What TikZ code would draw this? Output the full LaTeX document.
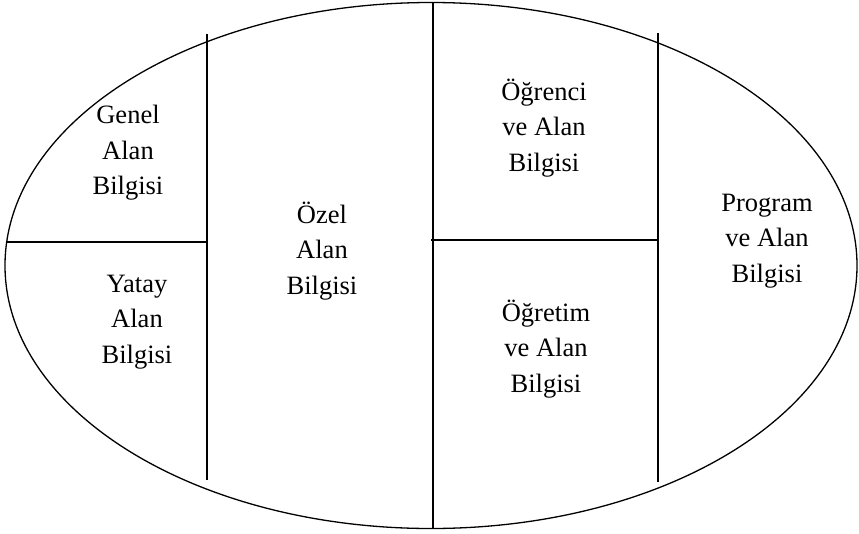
\documentclass[tikz,border=0pt]{standalone}
\usepackage{fontspec}
\setmainfont{Liberation Serif}
\usepackage{tikz}
\usetikzlibrary{positioning}

\tikzset{
  lbl/.style={align=center, inner sep=0pt, font=\fontsize{26.5}{35.5}\selectfont},
  divline/.style={line width=1.2pt},
}

\begin{document}
\begin{tikzpicture}[x=1pt,y=-1pt]
\useasboundingbox (0,0) rectangle (859,533);

% --- OUTER ELLIPSE ---
\draw[line width=1.3pt] (431,265.5) ellipse [x radius=426, y radius=263];

% --- DIVIDING LINES ---
\draw[divline] (207,34) -- (207,480);
\draw[divline] (433,2) -- (433,529);
\draw[divline] (658,33) -- (658,482);
\draw[divline] (7,242) -- (207,242);
\draw[divline] (431,240) -- (658,240);

% --- LEFT COLUMN ---
\node[lbl] (genel) at (128,153) {Genel\\Alan\\Bilgisi};
\node[lbl] (yatay) at (137,322) {Yatay\\Alan\\Bilgisi};

% --- MIDDLE ---
\node[lbl] (ozel) at (322,251) {Özel\\Alan\\Bilgisi};

% --- RIGHT COLUMN ---
\node[lbl] (ogrenci) at (544,128) {Öğrenci\\ve Alan\\Bilgisi};
\node[lbl] (ogretim) at (546,349) {Öğretim\\ve Alan\\Bilgisi};
\node[lbl] (program) at (767,241) {Program\\ve Alan\\Bilgisi};
\end{tikzpicture}
\end{document}
